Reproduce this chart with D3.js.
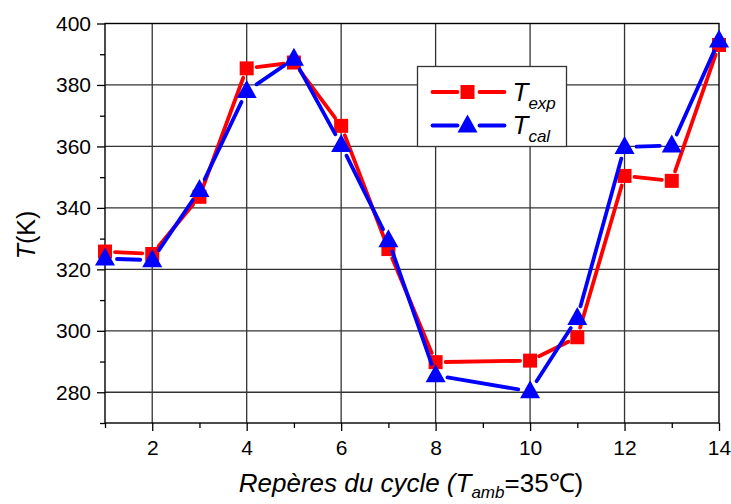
<!DOCTYPE html>
<html>
<head>
<meta charset="utf-8">
<script src="https://cdn.jsdelivr.net/npm/d3@7"></script>
<style>
  body { margin: 0; background: #fff; }
  text { font-family: "Liberation Sans", Arial, sans-serif; }
</style>
</head>
<body>
<div id="chart"></div>
<script>
const points = [1, 2, 3, 4, 5, 6, 7, 8, 10, 11, 12, 13, 14];
const tExp = [325.8, 325, 343.6, 385.4, 387.3, 366.7, 326.6, 289.8, 290.3, 297.9, 350.4, 348.8, 393];
const tCal = [323.5, 323, 345.8, 378, 388.5, 360.5, 329.5, 285.5, 280.3, 304.2, 359.8, 360.3, 394.5];
const xTicks = [2, 4, 6, 8, 10, 12, 14];
const xMinor = [1, 3, 5, 7, 9, 11, 13];
const yTicks = [280, 300, 320, 340, 360, 380, 400];
const yMinor = [270, 290, 310, 330, 350, 370, 390];

const width = 731;
const height = 504;
const margin = { top: 23.5, right: 12, bottom: 81, left: 105 };

const svg = d3.select('#chart')
  .append('svg')
  .attr('width', width)
  .attr('height', height);

const x = d3.scaleLinear()
  .domain([1, 14])
  .range([margin.left, width - margin.right]);

const y = d3.scaleLinear()
  .domain([270, 400])
  .range([height - margin.bottom, margin.top]);

// grid
svg.append('g')
  .selectAll('line')
  .data(xTicks.slice(0, -1))
  .join('line')
  .attr('x1', d => x(d)).attr('x2', d => x(d))
  .attr('y1', y(270)).attr('y2', y(400))
  .attr('stroke', '#333').attr('stroke-width', 1.3);

svg.append('g')
  .selectAll('line')
  .data(yTicks.slice(0, -1))
  .join('line')
  .attr('x1', x(1)).attr('x2', x(14))
  .attr('y1', d => y(d)).attr('y2', d => y(d))
  .attr('stroke', '#333').attr('stroke-width', 1.3);

// frame
svg.append('rect')
  .attr('x', x(1)).attr('y', y(400))
  .attr('width', x(14) - x(1)).attr('height', y(270) - y(400))
  .attr('fill', 'none').attr('stroke', '#000').attr('stroke-width', 1.4);

// axes
const yAxis = svg.append('g')
  .attr('transform', `translate(${x(1)},0)`)
  .call(d3.axisLeft(y).tickValues(yTicks).tickSize(8).tickPadding(6).tickFormat(d3.format('d')));
yAxis.select('.domain').remove();
yAxis.selectAll('text').attr('font-size', '21px').attr('fill', '#000');
yAxis.selectAll('line').attr('stroke-width', 1.3);

svg.append('g')
  .attr('transform', `translate(${x(1)},0)`)
  .call(d3.axisLeft(y).tickValues(yMinor).tickSize(5).tickFormat(''))
  .call(g => g.select('.domain').remove())
  .selectAll('line').attr('stroke-width', 1.3);

const xAxis = svg.append('g')
  .attr('transform', `translate(0,${y(270)})`)
  .call(d3.axisBottom(x).tickValues(xTicks).tickSize(8).tickPadding(9).tickFormat(d3.format('d')));
xAxis.select('.domain').remove();
xAxis.selectAll('text').attr('font-size', '21px').attr('fill', '#000');
xAxis.selectAll('line').attr('stroke-width', 1.3);

svg.append('g')
  .attr('transform', `translate(0,${y(270)})`)
  .call(d3.axisBottom(x).tickValues(xMinor).tickSize(5).tickFormat(''))
  .call(g => g.select('.domain').remove())
  .selectAll('line').attr('stroke-width', 1.3);

// series
const squarePath = 'M-7,-7H7V7H-7Z';
const trianglePath = 'M0,-11L10,7L-10,7Z';

function drawSeries(values, color, marker, gap) {
  const pts = points.map((p, i) => [x(p), y(values[i])]);
  const segs = d3.pairs(pts).map(([a, b]) => {
    const dx = b[0] - a[0], dy = b[1] - a[1];
    const len = Math.hypot(dx, dy);
    const ux = dx / len, uy = dy / len;
    return [a[0] + ux * gap, a[1] + uy * gap, b[0] - ux * gap, b[1] - uy * gap, len];
  }).filter(s => s[4] > gap * 2);
  const g = svg.append('g');
  g.selectAll('line')
    .data(segs)
    .join('line')
    .attr('x1', d => d[0]).attr('y1', d => d[1])
    .attr('x2', d => d[2]).attr('y2', d => d[3])
    .attr('stroke', color).attr('stroke-width', 3.8).attr('stroke-linecap', 'round');
  g.selectAll('path')
    .data(pts)
    .join('path')
    .attr('d', marker)
    .attr('transform', d => `translate(${d[0]},${d[1]})`)
    .attr('fill', color);
}

drawSeries(tExp, '#ff0000', squarePath, 10);
drawSeries(tCal, '#0000ff', trianglePath, 12);

// legend
const legend = svg.append('g').attr('transform', 'translate(417.5,66.5)');
legend.append('rect')
  .attr('width', 149).attr('height', 80)
  .attr('fill', '#fff').attr('stroke', '#333').attr('stroke-width', 1.3);

const entries = [
  { color: '#ff0000', marker: squarePath, sub: 'exp', yy: 25.5 },
  { color: '#0000ff', marker: trianglePath, sub: 'cal', yy: 59 }
];
entries.forEach(e => {
  legend.append('line')
    .attr('x1', 15).attr('x2', 40).attr('y1', e.yy).attr('y2', e.yy)
    .attr('stroke', e.color).attr('stroke-width', 3.8).attr('stroke-linecap', 'round');
  legend.append('line')
    .attr('x1', 62).attr('x2', 87).attr('y1', e.yy).attr('y2', e.yy)
    .attr('stroke', e.color).attr('stroke-width', 3.8).attr('stroke-linecap', 'round');
  legend.append('path')
    .attr('d', e.marker)
    .attr('transform', `translate(50,${e.yy})`)
    .attr('fill', e.color);
  const t = legend.append('text')
    .attr('x', 95).attr('y', e.yy + 8.5)
    .attr('font-size', '26px').attr('font-style', 'italic');
  t.append('tspan').text('T');
  t.append('tspan').attr('dy', 8).attr('font-size', '17px').text(e.sub);
});

// axis titles
const xt = svg.append('text')
  .attr('x', 411).attr('y', 492)
  .attr('text-anchor', 'middle')
  .attr('font-size', '26px');
xt.append('tspan').attr('font-style', 'italic').text('Repères du cycle (');
xt.append('tspan').attr('font-style', 'italic').text('T');
xt.append('tspan').attr('font-style', 'italic').attr('font-size', '17px').attr('dy', 6).text('amb');
xt.append('tspan').attr('dy', -6).text('=35℃)');

const yt = svg.append('text')
  .attr('transform', `translate(35,235) rotate(-90)`)
  .attr('text-anchor', 'middle')
  .attr('font-size', '25px');
yt.append('tspan').attr('font-style', 'italic').text('T');
yt.append('tspan').text('(K)');
</script>
</body>
</html>
